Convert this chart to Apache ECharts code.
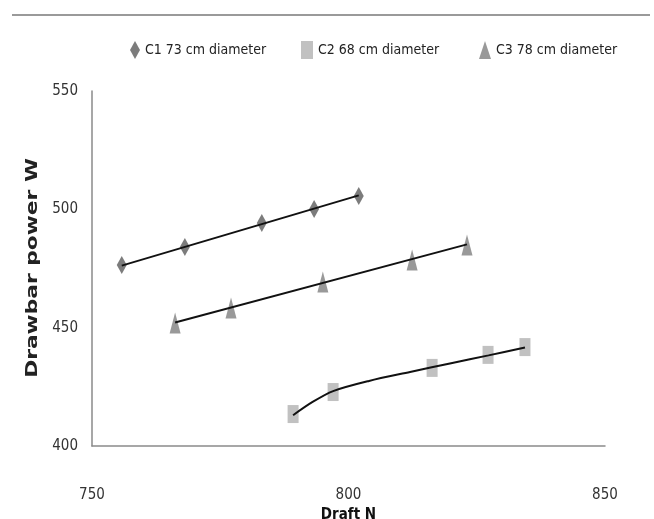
<!DOCTYPE html>
<html>
<head>
<meta charset="utf-8">
<script src="https://cdn.jsdelivr.net/npm/echarts@6/dist/echarts.min.js"></script>
<style>
html,body{margin:0;padding:0;background:#fff;}
#chart{width:654px;height:519px;}
</style>
</head>
<body>
<div id="chart"></div>
<script>
// Series names
var seriesNames = ['C1 73 cm diameter', 'C2 68 cm diameter', 'C3 78 cm diameter'];
// Data (Draft N, Drawbar power W)
var c1X = [755.8, 768.1, 783.1, 793.3, 802.0];
var c1Y = [476.5, 484.1, 494.2, 500.1, 505.6];
var c2X = [789.2, 797.0, 816.3, 827.2, 834.4];
var c2Y = [413.5, 422.8, 433.0, 438.5, 441.8];
var c3X = [766.2, 777.1, 795.0, 812.4, 823.1];
var c3Y = [452.0, 458.3, 469.3, 478.6, 484.9];
// Trendlines
var c1TrendX = [755.8, 802.0];
var c1TrendY = [476.2, 505.9];
var c3TrendX = [766.2, 823.1];
var c3TrendY = [452.2, 485.2];
var c2TrendX = [789.2, 793.0, 797.0, 804.0, 812.0, 820.0, 827.3, 834.4];
var c2TrendY = [413.0, 418.6, 423.2, 427.5, 431.3, 435.0, 438.3, 441.6];
// Axes
var xMin = 750, xMax = 850, xStep = 50;
var yMin = 400, yMax = 550, yStep = 50;
var xTitle = 'Draft N';
var yTitle = 'Drawbar power W';

function zip(xs, ys) { return xs.map(function (x, i) { return [x, ys[i]]; }); }

var narrow = "'Liberation Sans Narrow', 'DejaVu Sans Condensed', 'Liberation Sans', sans-serif";

var chart = echarts.init(document.getElementById('chart'), null, {renderer: 'canvas'});
var legendBase = {
  orient: 'horizontal', top: 41, itemGap: 0, itemWidth: 10, itemHeight: 18,
  textStyle: {fontFamily: narrow, fontSize: 14, color: '#222'},
  padding: 0
};
chart.setOption({
  animation: false,
  backgroundColor: '#fff',
  grid: {left: 92, right: 49, top: 91, bottom: 73, containLabel: false, outerBoundsMode: 'none'},
  legend: [
    Object.assign({}, legendBase, {left: 130, data: [{name: seriesNames[0], icon: 'diamond'}]}),
    Object.assign({}, legendBase, {left: 301, itemWidth: 12, data: [{name: seriesNames[1], icon: 'rect'}]}),
    Object.assign({}, legendBase, {left: 479, itemWidth: 12, data: [{name: seriesNames[2], icon: 'triangle'}]})
  ],
  xAxis: {
    type: 'value', min: xMin, max: xMax, interval: xStep,
    name: xTitle, nameLocation: 'middle', nameGap: 55,
    nameTextStyle: {fontFamily: narrow, fontSize: 15, color: '#111', fontWeight: 'bold'},
    axisLine: {show: true, lineStyle: {color: '#8a8a8a', width: 1.5}},
    axisTick: {show: false},
    splitLine: {show: false},
    axisLabel: {margin: 42, fontFamily: narrow, fontSize: 15, color: '#333'}
  },
  yAxis: {
    type: 'value', min: yMin, max: yMax, interval: yStep,
    axisLine: {show: true, lineStyle: {color: '#8a8a8a', width: 1.5}},
    axisTick: {show: false},
    splitLine: {show: false},
    axisLabel: {margin: 14, fontFamily: narrow, fontSize: 15, color: '#333'}
  },
  graphic: [
    {type: 'line', shape: {x1: 12, y1: 15, x2: 650, y2: 15}, style: {stroke: '#9a9a9a', lineWidth: 2}},
    {type: 'text', x: 33, y: 268, rotation: Math.PI / 2, scaleX: 1.45, scaleY: 1,
     style: {text: yTitle, fontFamily: "'DejaVu Sans', sans-serif", fontSize: 15, fontWeight: 'bold',
             fill: '#222', align: 'center', verticalAlign: 'middle'}}
  ],
  series: [
    {name: seriesNames[0], type: 'scatter', symbol: 'diamond', symbolSize: [10, 18], z: 2,
     itemStyle: {color: '#5b5b5b'}, data: zip(c1X, c1Y)},
    {name: seriesNames[1], type: 'scatter', symbol: 'rect', symbolSize: [11, 18], z: 2,
     itemStyle: {color: '#b2b2b2'}, data: zip(c2X, c2Y)},
    {name: seriesNames[2], type: 'scatter', symbol: 'triangle', symbolSize: [11, 21], z: 2,
     itemStyle: {color: '#7f7f7f'}, data: zip(c3X, c3Y)},
    {name: 'c1trend', type: 'line', showSymbol: false, symbol: 'none', z: 3, silent: true,
     lineStyle: {color: '#111', width: 2}, data: zip(c1TrendX, c1TrendY)},
    {name: 'c2trend', type: 'line', showSymbol: false, symbol: 'none', z: 3, smooth: 0.3, silent: true,
     lineStyle: {color: '#111', width: 2}, data: zip(c2TrendX, c2TrendY)},
    {name: 'c3trend', type: 'line', showSymbol: false, symbol: 'none', z: 3, silent: true,
     lineStyle: {color: '#111', width: 2}, data: zip(c3TrendX, c3TrendY)}
  ]
});
</script>
</body>
</html>
